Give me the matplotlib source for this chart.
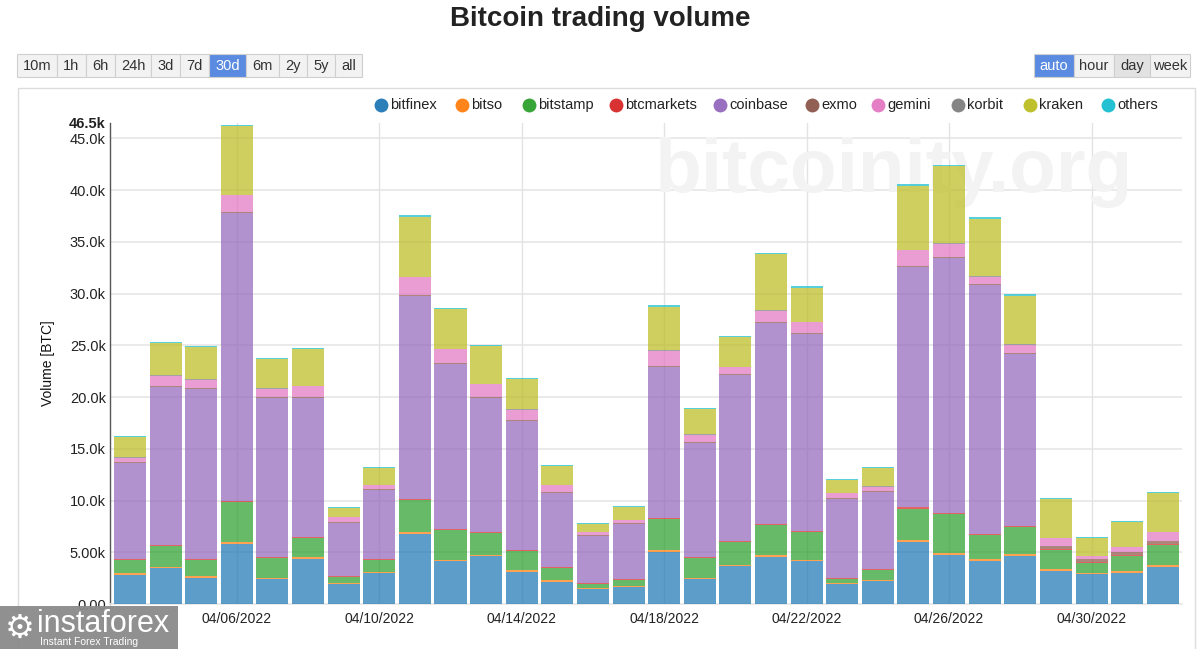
import matplotlib
matplotlib.use("Agg")
import matplotlib.pyplot as plt
from matplotlib.patches import Rectangle
from matplotlib.lines import Line2D
import numpy as np
import pandas as pd

plt.rcParams['font.family'] = ['Liberation Sans', 'DejaVu Sans']

# ---------------- data (thousand BTC) ----------------
dates = pd.date_range("2022-04-03", "2022-05-02", freq="D")
exchanges = ["bitfinex", "bitso", "bitstamp", "btcmarkets", "coinbase",
             "exmo", "gemini", "korbit", "kraken", "others"]
colors = ["#1f77b4", "#ff7f0e", "#2ca02c", "#d62728", "#9467bd",
          "#8c564b", "#e377c2", "#7f7f7f", "#bcbd22", "#17becf"]

bitfinex = [2.85, 3.45, 2.55, 5.84, 2.39, 4.39, 1.90, 2.97, 6.77, 4.16,
            4.65, 3.13, 2.16, 1.45, 1.61, 5.06, 2.39, 3.68, 4.58, 4.16,
            1.90, 2.19, 6.03, 4.74, 4.19, 4.68, 3.23, 2.90, 3.03, 3.61]
bitso = [0.12, 0.13, 0.13, 0.15, 0.13, 0.13, 0.12, 0.12, 0.15, 0.13,
         0.13, 0.13, 0.12, 0.10, 0.10, 0.13, 0.13, 0.13, 0.13, 0.13,
         0.10, 0.12, 0.14, 0.14, 0.13, 0.13, 0.13, 0.12, 0.12, 0.13]
bitstamp = [1.28, 2.05, 1.58, 3.85, 1.96, 1.83, 0.60, 1.20, 3.10, 2.85,
            2.05, 1.85, 1.20, 0.40, 0.60, 3.00, 1.95, 2.20, 2.90, 2.70,
            0.45, 1.00, 3.05, 3.80, 2.35, 2.60, 1.85, 0.95, 1.50, 1.95]
btcmarkets = [0.10, 0.10, 0.12, 0.13, 0.10, 0.10, 0.10, 0.10, 0.12, 0.11,
              0.10, 0.10, 0.10, 0.10, 0.10, 0.12, 0.10, 0.10, 0.12, 0.11,
              0.10, 0.10, 0.12, 0.12, 0.11, 0.11, 0.10, 0.10, 0.10, 0.10]
coinbase = [9.30, 15.20, 16.40, 27.80, 15.30, 13.50, 5.15, 6.60, 19.60, 15.95,
            13.00, 12.50, 7.10, 4.50, 5.30, 14.60, 11.00, 16.00, 19.40, 19.00,
            7.55, 7.45, 23.20, 24.60, 24.00, 16.60, 0.00, 0.00, 0.00, 0.00]
exmo = [0.10, 0.10, 0.10, 0.12, 0.10, 0.10, 0.10, 0.10, 0.12, 0.10,
        0.10, 0.10, 0.10, 0.10, 0.10, 0.12, 0.10, 0.10, 0.12, 0.12,
        0.10, 0.10, 0.12, 0.12, 0.12, 0.12, 0.25, 0.25, 0.25, 0.25]
gemini = [0.40, 1.05, 0.80, 1.60, 0.80, 1.00, 0.40, 0.40, 1.70, 1.30,
          1.20, 0.95, 0.70, 0.30, 0.30, 1.45, 0.70, 0.65, 1.10, 1.00,
          0.50, 0.35, 1.50, 1.30, 0.70, 0.80, 0.80, 0.30, 0.50, 0.90]
korbit = [0.05, 0.05, 0.05, 0.08, 0.05, 0.05, 0.05, 0.05, 0.06, 0.05,
          0.06, 0.05, 0.05, 0.04, 0.05, 0.06, 0.05, 0.05, 0.06, 0.05,
          0.05, 0.05, 0.06, 0.06, 0.05, 0.05, 0.05, 0.05, 0.05, 0.05]
kraken = [1.95, 3.05, 3.10, 6.60, 2.80, 3.50, 0.90, 1.60, 5.80, 3.90,
          3.60, 2.90, 1.80, 0.75, 1.20, 4.20, 2.40, 2.90, 5.40, 3.30,
          1.20, 1.75, 6.20, 7.40, 5.60, 4.70, 3.70, 1.70, 2.40, 3.70]
others = [0.12, 0.13, 0.10, 0.15, 0.12, 0.12, 0.10, 0.10, 0.13, 0.10,
          0.10, 0.10, 0.10, 0.10, 0.10, 0.12, 0.10, 0.12, 0.13, 0.12,
          0.10, 0.10, 0.13, 0.13, 0.13, 0.12, 0.12, 0.10, 0.10, 0.12]

series = [bitfinex, bitso, bitstamp, btcmarkets, coinbase,
          exmo, gemini, korbit, kraken, others]

yticks = [0, 5000, 10000, 15000, 20000, 25000, 30000, 35000, 40000, 45000]
ytick_labels = ["0.00", "5.00k", "10.0k", "15.0k", "20.0k", "25.0k",
                "30.0k", "35.0k", "40.0k", "45.0k"]
ymax = 46500
ymax_label = "46.5k"
xtick_dates = ["04/06/2022", "04/10/2022", "04/14/2022", "04/18/2022",
               "04/22/2022", "04/26/2022", "04/30/2022"]

left_buttons = ["10m", "1h", "6h", "24h", "3d", "7d", "30d", "6m", "2y", "5y", "all"]
right_buttons = ["auto", "hour", "day", "week"]

# ---------------- figure ----------------
W, H = 1200, 649
fig = plt.figure(figsize=(W / 100, H / 100), dpi=100)
fig.patch.set_facecolor("white")


def fx(px):
    return px / W


def fy(py):
    return 1 - py / H


# chart frame
fig.add_artist(Rectangle((fx(18), fy(660)), fx(1195) - fx(18), fy(88) - fy(660),
                         transform=fig.transFigure, fill=False,
                         edgecolor="#dcdcdc", linewidth=1.0, zorder=0))

ax_l, ax_r, ax_t, ax_b = 110, 1182, 122.8, 604
ax = fig.add_axes([fx(ax_l), fy(ax_b), fx(ax_r) - fx(ax_l), fy(ax_t) - fy(ax_b)])
ax.set_facecolor("none")

x = np.arange(len(dates))
bottom = np.zeros(len(dates))
for name, vals, col in zip(exchanges, series, colors):
    v = np.array(vals) * 1000
    ax.bar(x, v, width=0.9, bottom=bottom, color=col, alpha=0.72,
           linewidth=0, zorder=3, label=name)
    bottom += v

ax.set_xlim(-0.56, len(dates) - 1 + 0.54)
ax.set_ylim(0, ymax)

ax.set_yticks(yticks + [ymax])
ax.set_yticklabels(ytick_labels + [ymax_label], fontsize=10.5, color="#222222")
ax.get_yticklabels()[-1].set_fontweight("bold")
ax.tick_params(axis="y", length=0, pad=3)

date_labels = [d.strftime("%m/%d/%Y") for d in dates]
tick_pos = [date_labels.index(s) for s in xtick_dates]
ax.set_xticks(tick_pos)
ax.set_xticklabels(xtick_dates, fontsize=10, color="#222222")
ax.tick_params(axis="x", length=0, pad=6)

for yv in yticks[1:]:
    ax.axhline(yv, color="#e6e6e6", linewidth=1.2, zorder=1)
for xv in tick_pos:
    ax.axvline(xv, color="#e3e3e3", linewidth=1.0, zorder=1)

for s in ["top", "right"]:
    ax.spines[s].set_visible(False)
ax.spines["left"].set_color("#555555")
ax.spines["left"].set_linewidth(1.0)
ax.spines["bottom"].set_color("#e6e6e6")
ax.spines["bottom"].set_linewidth(1.2)

ax.set_ylabel("Volume [BTC]", fontsize=10, color="#111111")
ax.yaxis.set_label_coords(-0.051, 0.5)

# watermark (behind bars)
ax.text(fx(894), fy(172), "bitcoinity.org", fontsize=55, fontweight="bold",
        color="#f3f3f3", ha="center", va="center", zorder=2,
        transform=fig.transFigure)

# title
fig.text(0.5, fy(19), "Bitcoin trading volume", fontsize=20, fontweight="bold",
         ha="center", va="center", color="#222222")

# legend
leg_x = [381, 462, 529, 616, 720, 812, 878, 958, 1030, 1108]
for name, col, lx in zip(exchanges, colors, leg_x):
    fig.add_artist(Line2D([fx(lx)], [fy(105)], marker="o", markersize=10,
                          color=col, markeredgewidth=0, alpha=0.95,
                          transform=fig.transFigure))
    fig.text(fx(lx + 9), fy(105), name, fontsize=10.5, ha="left",
             va="center", color="#222222")

# buttons
def draw_buttons(labels, edges, selected, pressed=None):
    for i, lab in enumerate(labels):
        x0, x1 = edges[i], edges[i + 1]
        if lab == selected:
            fc, tc = "#5b8be0", "white"
        elif lab == pressed:
            fc, tc = "#e2e2e2", "#333333"
        else:
            fc, tc = "#f2f2f2", "#333333"
        fig.add_artist(Rectangle((fx(x0), fy(77)), fx(x1) - fx(x0), fy(54) - fy(77),
                                 transform=fig.transFigure, facecolor=fc,
                                 edgecolor="#cfcfcf", linewidth=0.8))
        fig.text(fx((x0 + x1) / 2), fy(66), lab, fontsize=10.5, color=tc,
                 ha="center", va="center")


draw_buttons(left_buttons, [17, 57, 86, 115, 151, 180, 209, 246, 279, 307, 335, 362], "30d")
draw_buttons(right_buttons, [1034, 1074, 1114, 1150, 1190], "auto", "day")

# instaforex watermark box
fig.add_artist(Rectangle((0, 0), fx(178), fy(606), transform=fig.transFigure,
                         facecolor="#8a8a8a", edgecolor="none", alpha=0.95, zorder=10))
fig.text(fx(20), fy(628), "\u2699", fontsize=24, color="white", ha="center",
         va="center", family=["DejaVu Sans"], zorder=11)
fig.text(fx(37), fy(624), "instaforex", fontsize=22, color="white", ha="left",
         va="center", zorder=11)
fig.text(fx(40), fy(642), "Instant Forex Trading", fontsize=7.5, color="white",
         ha="left", va="center", zorder=11)

fig.savefig("out.png", dpi=100, facecolor="white")
